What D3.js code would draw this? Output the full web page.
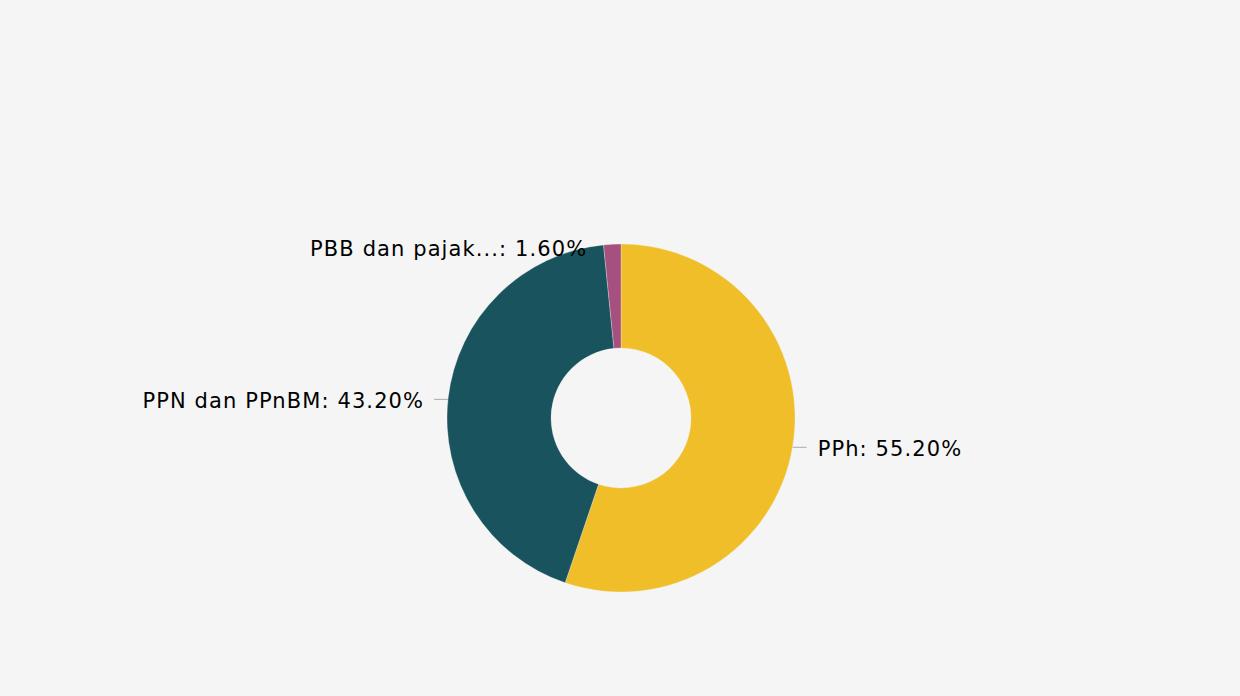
<!DOCTYPE html>
<html>
<head>
<meta charset="utf-8">
<script src="https://cdn.jsdelivr.net/npm/d3@7"></script>
<style>
  body { margin: 0; background: #f5f5f5; }
  svg { display: block; }
</style>
</head>
<body>
<div id="chart"></div>
<script>
// chart size
const width = 1240;
const height = 696;

// data
const labels = ["PPh", "PPN dan PPnBM", "PBB dan pajak..."];
const shares = [55.2, 43.2, 1.6];
const colors = ["#efbe29", "#18535e", "#a5507f"];

const cx = 621, cy = 418;
const outerR = 174, innerR = 70;

const svg = d3.select("#chart")
  .append("svg")
  .attr("width", width)
  .attr("height", height);

svg.append("rect")
  .attr("width", width)
  .attr("height", height)
  .attr("fill", "#f5f5f5");

const data = labels.map((l, i) => ({label: l, value: shares[i], color: colors[i]}));

// clockwise from 12 o'clock, no sorting
const pie = d3.pie()
  .value(d => d.value)
  .sort(null);

const arc = d3.arc()
  .innerRadius(innerR)
  .outerRadius(outerR);

const g = svg.append("g")
  .attr("transform", `translate(${cx},${cy})`);

const arcs = pie(data);

g.selectAll(".slice")
  .data(arcs)
  .enter()
  .append("path")
    .attr("class", "slice")
    .attr("d", arc)
    .attr("fill", d => d.data.color)
    .attr("stroke", "#f5f5f5")
    .attr("stroke-width", 0.3);

// label text style
const styleText = sel => sel
  .attr("dominant-baseline", "central")
  .attr("font-family", "DejaVu Sans, Verdana, sans-serif")
  .attr("font-size", "21px")
  .attr("letter-spacing", "1.1px")
  .attr("fill", "#000");

// outside labels with short leader lines
arcs.forEach(d => {
  const mid = (d.startAngle + d.endAngle) / 2;
  const px = outerR * Math.sin(mid);
  const py = -outerR * Math.cos(mid);
  const right = Math.sin(mid) > 0;
  const txt = d.data.label + ": " + d.data.value.toFixed(2) + "%";

  if (Math.abs(Math.sin(mid)) > 0.5) {
    const lx = px + (right ? 14 : -14);
    g.append("line")
      .attr("x1", px).attr("y1", py + 1)
      .attr("x2", lx).attr("y2", py + 1)
      .attr("stroke", "#aaa")
      .attr("stroke-width", 1);
    g.append("text")
      .attr("x", lx + (right ? 11 : -10))
      .attr("y", py + 3)
      .attr("text-anchor", right ? "start" : "end")
      .call(styleText)
      .text(txt);
  } else {
    // near the top: label sits beside the slice, no line
    g.append("text")
      .attr("x", px - 25)
      .attr("y", py + 5)
      .attr("text-anchor", "end")
      .call(styleText)
      .text(txt);
  }
});
</script>
</body>
</html>
